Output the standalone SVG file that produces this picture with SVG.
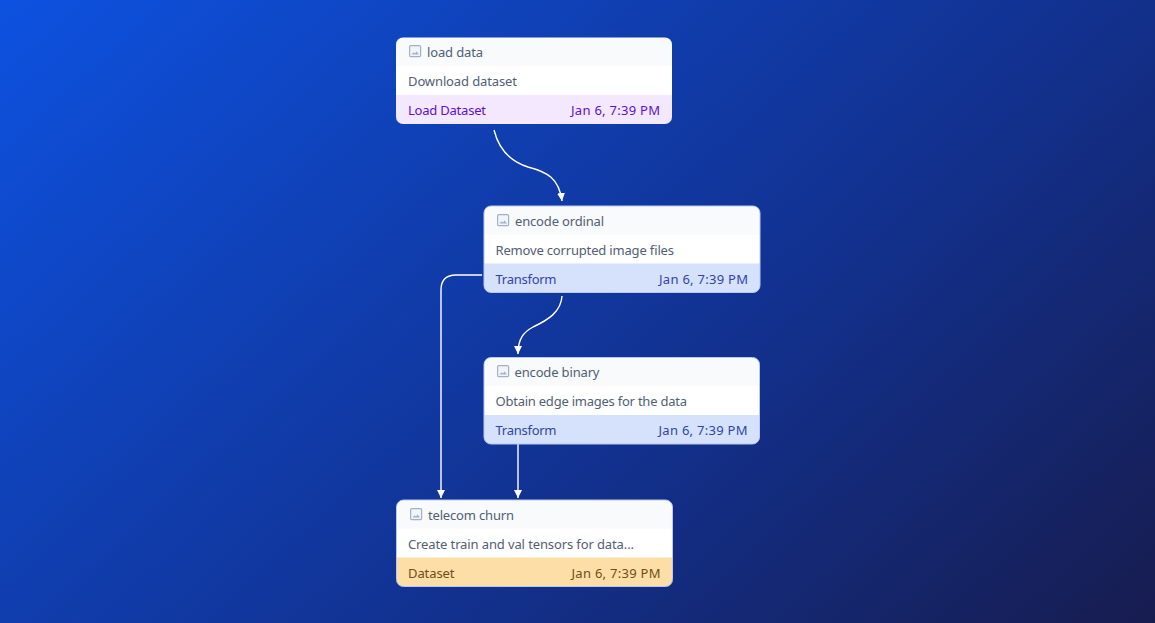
<svg xmlns="http://www.w3.org/2000/svg" width="1155" height="623" viewBox="0 0 1155 623">
<style>
text{font-family:"Noto Sans","Liberation Sans",sans-serif;font-size:13px}
.h{fill:#f8fafc}.b{fill:#fff}
.o{fill:none;stroke:#b9c8ef;stroke-width:1}
.t{fill:#525e73}
.ic{fill:#f1f5f9;stroke:#a3b1c6;stroke-width:1.2}
.icf{fill:#a3b1c6}
.c{fill:none;stroke:#fff;stroke-width:1.4}
.e{text-anchor:end}
.p{fill:#5b0fd8}.q{fill:#2f45a8}.r{fill:#6f4e17}
</style>
<defs>
<linearGradient id="bg" gradientUnits="userSpaceOnUse" x1="150" y1="-150" x2="1005" y2="773">
<stop offset="0" stop-color="#0d52e1"/><stop offset="0.6" stop-color="#12318f"/><stop offset="1" stop-color="#171c4e"/>
</linearGradient>
<marker id="a" markerWidth="10" markerHeight="10" refX="8" refY="4" orient="auto" markerUnits="userSpaceOnUse"><path d="M0 0L8 4L0 8z" fill="#fff"/></marker>
<symbol id="img" viewBox="0 0 13 13" overflow="visible"><rect class="ic" x="0.6" y="0.6" width="11" height="11" rx="1.2"/><path class="icf" d="M2.5 9.6L4.6 7.2L6 8.4L7.6 6.6L10 9.6z"/></symbol>
<clipPath id="n1"><rect x="396" y="37.5" width="276" height="86.5" rx="7"/></clipPath>
<clipPath id="n2"><rect x="484" y="206" width="276" height="86.5" rx="7"/></clipPath>
<clipPath id="n3"><rect x="484" y="357.5" width="275.5" height="86.5" rx="7"/></clipPath>
<clipPath id="n4"><rect x="396.5" y="500" width="276" height="86.5" rx="7"/></clipPath>
</defs>
<rect width="1155" height="623" fill="url(#bg)"/>
<g id="connectors">
<path class="c" marker-end="url(#a)" d="M494 130C499 150 512 162 528 167C547 172 559 178 562 201"/>
<path class="c" marker-end="url(#a)" d="M482 275H456Q441 275 441 290V498"/>
<path class="c" marker-end="url(#a)" d="M562 296C561 312 548 320 533 327C524 332 518 338 518 354"/>
<path class="c" marker-end="url(#a)" d="M518 443V498"/>
</g>
<g id="load-data">
<g clip-path="url(#n1)"><rect class="h" x="396" y="37" width="276" height="30"/><rect class="b" x="396" y="66" width="276" height="30"/><rect fill="#f3e8fd" x="396" y="95" width="276" height="29"/></g>
<use href="#img" x="409" y="45" width="13" height="13"/>
<text class="t" x="427" y="57" textLength="56">load data</text>
<text class="t" x="408" y="86" textLength="109">Download dataset</text>
<text class="p" x="408" y="115" textLength="78">Load Dataset</text>
<text class="p" x="571" y="115" textLength="89">Jan 6, 7:39 PM</text>
</g>
<g id="encode-ordinal">
<g clip-path="url(#n2)"><rect class="h" x="484" y="206" width="276" height="29"/><rect class="b" x="484" y="235" width="276" height="29"/><rect fill="#d6e1fc" x="484" y="263.5" width="276" height="29"/></g>
<rect class="o" x="484" y="206" width="276" height="86.5" rx="7"/>
<use href="#img" x="497" y="214" width="13" height="13"/>
<text class="t" x="515" y="226" textLength="89">encode ordinal</text>
<text class="t" x="495.500" y="255" textLength="178.500">Remove corrupted image files</text>
<text class="q" x="495.500" y="284" textLength="61">Transform</text>
<text class="q" x="659" y="284" textLength="89">Jan 6, 7:39 PM</text>
</g>
<g id="encode-binary">
<g clip-path="url(#n3)"><rect class="h" x="484" y="357.500" width="276" height="29"/><rect class="b" x="484" y="386" width="276" height="29"/><rect fill="#d6e1fc" x="484" y="415" width="276" height="29"/></g>
<rect class="o" x="484" y="357.500" width="275.500" height="86.500" rx="7"/>
<use href="#img" x="497" y="365" width="13" height="13"/>
<text class="t" x="514.500" y="377" textLength="85">encode binary</text>
<text class="t" x="495.500" y="406" textLength="191.500">Obtain edge images for the data</text>
<text class="q" x="495.500" y="435" textLength="61">Transform</text>
<text class="q" x="658.500" y="435" textLength="89">Jan 6, 7:39 PM</text>
</g>
<g id="telecom-churn">
<g clip-path="url(#n4)"><rect class="h" x="396.500" y="500" width="276" height="29"/><rect class="b" x="396.500" y="529" width="276" height="29"/><rect fill="#fddea6" x="396.500" y="557.500" width="276" height="29"/></g>
<rect class="o" x="396.500" y="500" width="276" height="86.500" rx="7"/>
<use href="#img" x="410" y="508" width="13" height="13"/>
<text class="t" x="428" y="520" textLength="86">telecom churn</text>
<text class="t" x="408" y="549" textLength="226">Create train and val tensors for data...</text>
<text class="r" x="408" y="578" textLength="46.500">Dataset</text>
<text class="r" x="571.500" y="578" textLength="89">Jan 6, 7:39 PM</text>
</g>
</svg>
